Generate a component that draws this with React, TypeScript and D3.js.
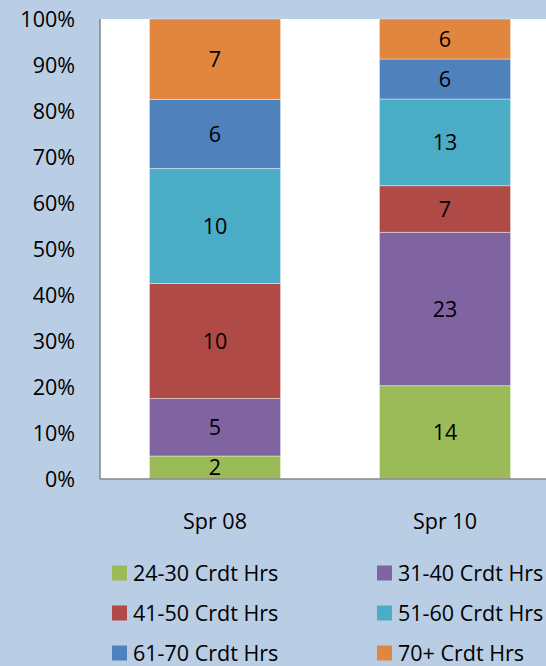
import React, { useEffect, useRef } from 'react';
import * as d3 from 'd3';

// chart data
const terms = ['Spr 08', 'Spr 10'];
const groups = ['24-30 Crdt Hrs', '31-40 Crdt Hrs', '41-50 Crdt Hrs', '51-60 Crdt Hrs', '61-70 Crdt Hrs', '70+ Crdt Hrs'];
const spr08 = [2, 5, 10, 10, 6, 7];
const spr10 = [14, 23, 7, 13, 6, 6];
const colors = ['#9bbb59', '#8064a2', '#b04a46', '#4bacc6', '#4f81bd', '#e0863f'];
const yTicks = [0, 0.1, 0.2, 0.3, 0.4, 0.5, 0.6, 0.7, 0.8, 0.9, 1];

const W = 546;
const H = 666;
const FONT = '"Open Sans", "Noto Sans", sans-serif';
const FS = 21.5;

const App: React.FC = () => {
  const ref = useRef<SVGSVGElement | null>(null);

  useEffect(() => {
    const svg = d3.select(ref.current);
    svg.selectAll('*').remove();

    svg.append('rect').attr('width', W).attr('height', H).attr('fill', '#b9cde5');

    const left = 100, right = 560, top = 19, bottom = 479;

    const x = d3.scaleBand().domain(terms).range([left, right]).paddingInner(0.43).paddingOuter(0.215);
    const y = d3.scaleLinear().domain([0, 1]).range([bottom, top]);

    // plot area
    svg.append('rect')
      .attr('x', left).attr('y', top)
      .attr('width', right - left).attr('height', bottom - top)
      .attr('fill', '#ffffff');

    const series = [spr08, spr10];
    terms.forEach((t, ti) => {
      const vals = series[ti];
      const total = d3.sum(vals);
      let acc = 0;
      vals.forEach((v, gi) => {
        const y0 = acc / total;
        const y1 = (acc + v) / total;
        acc += v;
        svg.append('rect')
          .attr('x', x(t) as number)
          .attr('y', y(y1))
          .attr('width', x.bandwidth())
          .attr('height', y(y0) - y(y1))
          .attr('fill', colors[gi])
          .attr('stroke', '#ffffff')
          .attr('stroke-opacity', 0.4)
          .attr('stroke-width', 1);
        svg.append('text')
          .attr('x', (x(t) as number) + x.bandwidth() / 2)
          .attr('y', (y(y0) + y(y1)) / 2)
          .attr('dy', '0.36em')
          .attr('text-anchor', 'middle')
          .attr('font-family', FONT)
          .attr('font-size', FS)
          .attr('fill', '#000')
          .text(v);
      });
    });

    // axes
    svg.append('line')
      .attr('x1', left).attr('x2', left).attr('y1', top).attr('y2', bottom)
      .attr('stroke', '#868686').attr('stroke-width', 1.5);
    svg.append('line')
      .attr('x1', left).attr('x2', right).attr('y1', bottom).attr('y2', bottom)
      .attr('stroke', '#868686').attr('stroke-width', 1.5);

    svg.selectAll('.ytick')
      .data(yTicks)
      .enter()
      .append('text')
      .attr('x', 75)
      .attr('y', d => y(d))
      .attr('dy', '0.36em')
      .attr('text-anchor', 'end')
      .attr('font-family', FONT)
      .attr('font-size', FS)
      .attr('fill', '#000')
      .text(d => d3.format('.0%')(d));

    svg.selectAll('.xlab')
      .data(terms)
      .enter()
      .append('text')
      .attr('x', d => (x(d) as number) + x.bandwidth() / 2)
      .attr('y', 521)
      .attr('dy', '0.36em')
      .attr('text-anchor', 'middle')
      .attr('font-family', FONT)
      .attr('font-size', FS)
      .attr('fill', '#000')
      .text(d => d);

    // legend
    const legend = svg.append('g');
    groups.forEach((g, i) => {
      const col = i % 2;
      const row = Math.floor(i / 2);
      const lx = col === 0 ? 112 : 377;
      const ly = 573 + row * 40;
      legend.append('rect')
        .attr('x', lx).attr('y', ly - 7.5)
        .attr('width', 15).attr('height', 15)
        .attr('fill', colors[i]);
      legend.append('text')
        .attr('x', lx + 21)
        .attr('y', ly)
        .attr('dy', '0.36em')
        .attr('font-family', FONT)
        .attr('font-size', FS)
        .attr('fill', '#000')
        .text(g);
    });
  }, []);

  return (
    <svg
      ref={ref}
      width={W}
      height={H}
      style={{ display: 'block', position: 'absolute', left: 0, top: 0 }}
    />
  );
};

export default App;
